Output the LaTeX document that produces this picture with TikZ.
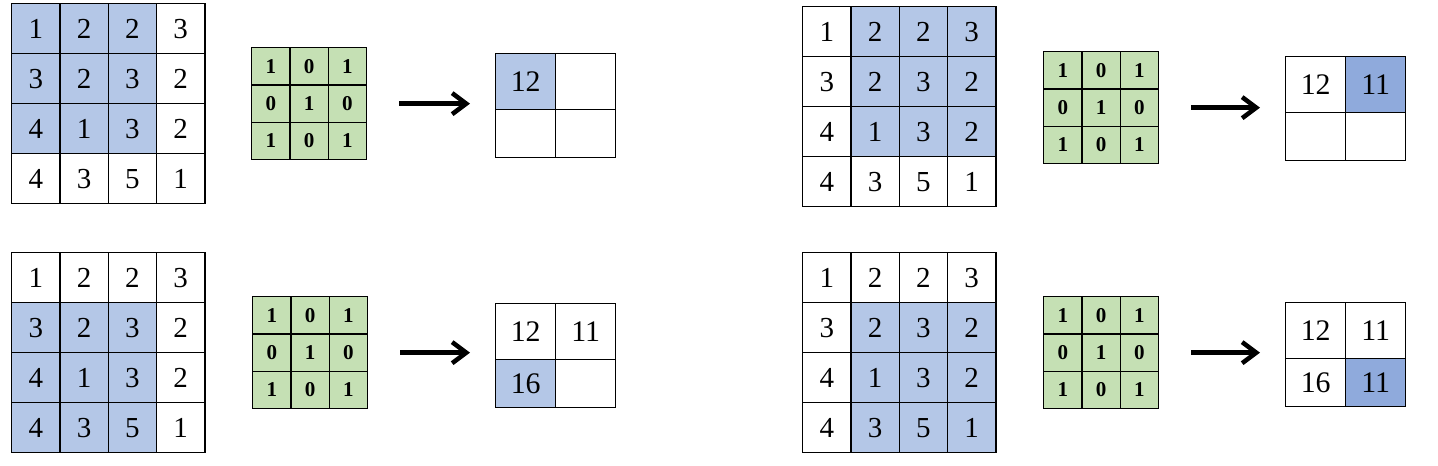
\documentclass[tikz,border=0pt]{standalone}
\usepackage{fontspec}
\setmainfont{Liberation Serif}
\usetikzlibrary{matrix,arrows.meta}
\definecolor{winblue}{HTML}{B4C7E7}
\definecolor{hitblue}{HTML}{8FAADC}
\definecolor{kergreen}{HTML}{C5E0B4}
\tikzset{
	x=0.02cm, y=-0.02cm, % one unit is one pixel, y runs downwards
	grid/.style={matrix of nodes, nodes in empty cells, inner sep=0pt, outer sep=0pt, column sep=-0.8pt, row sep=-0.8pt, anchor=north west},
	cell/.style={draw, line width=0.8pt, inner sep=0pt, outer sep=0pt, anchor=center},
	input/.style={nodes={cell, minimum width=0.966cm, minimum height=1cm, font=\fontsize{16.5}{16.5}\selectfont}}, % the 4x4 image
	kernel/.style={nodes={cell, fill=kergreen, minimum width=0.766cm, minimum height=0.746cm, font=\fontsize{12}{12}\selectfont\bfseries}}, % the 3x3 filter
	output/.style={nodes={cell, minimum width=1.2cm, font=\fontsize{17}{17}\selectfont}, row 1/.style={nodes={minimum height=1.12cm}}, row 2/.style={nodes={minimum height=0.96cm}}}, % the 2x2 result
	win/.style={fill=winblue}, % cells under the filter
	hit/.style={fill=hitblue}, % the newest result
	conv/.style={-{Straight Barb[length=8pt,width=12pt]}, line width=2.6pt, shorten <=0.64cm, shorten >=0.5cm},
}
\begin{document}
\begin{tikzpicture}
	\useasboundingbox (0,0) rectangle (1438,466);
	% top left
	\matrix (in1) [grid, input] at (11,3) {
		|[win]| 1 & |[win]| 2 & |[win]| 2 & 3 \\
		|[win]| 3 & |[win]| 2 & |[win]| 3 & 2 \\
		|[win]| 4 & |[win]| 1 & |[win]| 3 & 2 \\
		4 & 3 & 5 & 1 \\
	};
	\matrix (ker1) [grid, kernel] at (251,47) {
		1 & 0 & 1 \\
		0 & 1 & 0 \\
		1 & 0 & 1 \\
	};
	\matrix (out1) [grid, output] at (495,53) {
		|[win]| 12 & \\
		& \\
	};
	\draw[conv] (ker1.east) -- (ker1.east -| out1.west);
	
	% top right
	\matrix (in2) [grid, input] at (802,6) {
		1 & |[win]| 2 & |[win]| 2 & |[win]| 3 \\
		3 & |[win]| 2 & |[win]| 3 & |[win]| 2 \\
		4 & |[win]| 1 & |[win]| 3 & |[win]| 2 \\
		4 & 3 & 5 & 1 \\
	};
	\matrix (ker2) [grid, kernel] at (1043,51) {
		1 & 0 & 1 \\
		0 & 1 & 0 \\
		1 & 0 & 1 \\
	};
	\matrix (out2) [grid, output] at (1285,56) {
		12 & |[hit]| 11 \\
		& \\
	};
	\draw[conv] (ker2.east) -- (ker2.east -| out2.west);
	
	% bottom left
	\matrix (in3) [grid, input] at (11,252) {
		1 & 2 & 2 & 3 \\
		|[win]| 3 & |[win]| 2 & |[win]| 3 & 2 \\
		|[win]| 4 & |[win]| 1 & |[win]| 3 & 2 \\
		|[win]| 4 & |[win]| 3 & |[win]| 5 & 1 \\
	};
	\matrix (ker3) [grid, kernel] at (252,296) {
		1 & 0 & 1 \\
		0 & 1 & 0 \\
		1 & 0 & 1 \\
	};
	\matrix (out3) [grid, output] at (495,303) {
		12 & 11 \\
		|[win]| 16 & \\
	};
	\draw[conv] (ker3.east) -- (ker3.east -| out3.west);
	
	% bottom right
	\matrix (in4) [grid, input] at (802,252) {
		1 & 2 & 2 & 3 \\
		3 & |[win]| 2 & |[win]| 3 & |[win]| 2 \\
		4 & |[win]| 1 & |[win]| 3 & |[win]| 2 \\
		4 & |[win]| 3 & |[win]| 5 & |[win]| 1 \\
	};
	\matrix (ker4) [grid, kernel] at (1043,296) {
		1 & 0 & 1 \\
		0 & 1 & 0 \\
		1 & 0 & 1 \\
	};
	\matrix (out4) [grid, output] at (1285,302) {
		12 & 11 \\
		16 & |[hit]| 11 \\
	};
	\draw[conv] (ker4.east) -- (ker4.east -| out4.west);
\end{tikzpicture}
\end{document}
